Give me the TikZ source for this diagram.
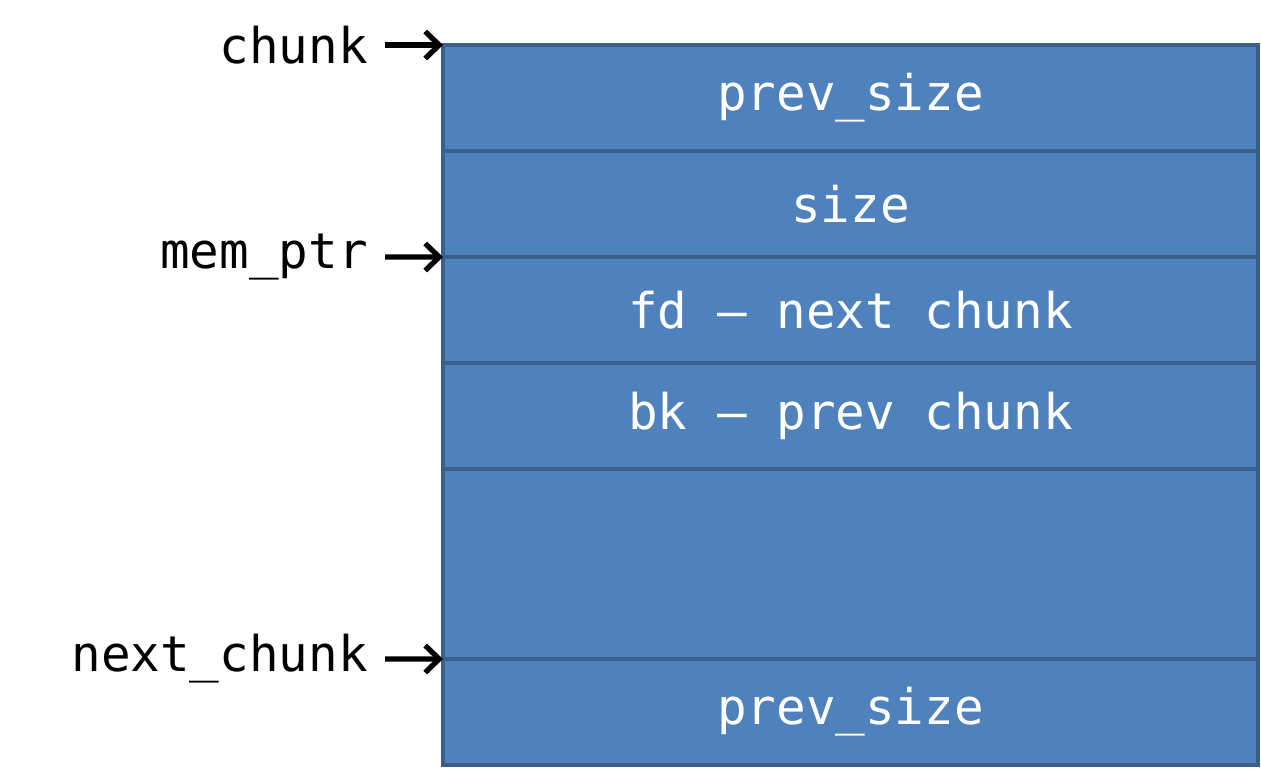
\documentclass[tikz,border=0pt]{standalone}
\usepackage{fontspec}
\setmonofont{DejaVu Sans Mono}
\usetikzlibrary{arrows.meta,positioning}
\definecolor{cellblue}{RGB}{79,129,189}
\definecolor{celledge}{RGB}{58,95,139}

\begin{document}
\begin{tikzpicture}[node distance=0pt,
  every node/.style={font=\ttfamily\fontsize{28}{30}\selectfont},
  cell/.style={draw=celledge,line width=2.2pt,fill=cellblue,text=white,outer sep=0pt,inner sep=0pt,minimum width=16.3cm,minimum height=2.12cm},
  ptrlbl/.style={anchor=east,inner ysep=0pt,inner xsep=0.34cm},
  ptr/.style={-{Straight Barb[length=2.8mm,width=5.4mm]},line width=3pt}]
  \useasboundingbox (0,0) rectangle (25.22,-15.46);
  % chunk fields
  \node[cell,anchor=north west] (prev) at (8.86,-0.9) {prev\_size};
  \node[cell,below=of prev] (size) {size};
  \node[cell,below=of size] (fd) {fd – next chunk};
  \node[cell,below=of fd] (bk) {bk – prev chunk};
  \node[cell,below=of bk,minimum height=3.8cm] (data) {};
  \node[cell,below=of data] (nprev) {prev\_size};
  % pointers
  \node[ptrlbl] (chunk) at (7.7,-0.9) {chunk};
  \node[ptrlbl] (mem) at (7.7,-5.14) {mem\_ptr};
  \node[ptrlbl] (next) at (7.7,-13.18) {next\_chunk};
  \draw[ptr] (chunk.east) -- (prev.north west);
  \draw[ptr] (mem.east) -- (fd.north west);
  \draw[ptr] (next.east) -- (nprev.north west);
\end{tikzpicture}
\end{document}
